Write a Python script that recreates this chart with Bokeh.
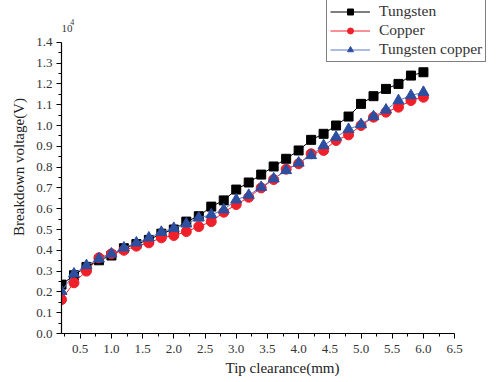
from bokeh.plotting import figure
from bokeh.models import (Range1d, FixedTicker, PrintfTickFormatter, Legend,
                          LegendItem, Label, ColumnDataSource)
from bokeh.embed import file_html
from bokeh.resources import INLINE

# Data (breakdown voltage in units of 10^4 V)
clearance = [0.2, 0.4, 0.6, 0.8, 1.0, 1.2, 1.4, 1.6, 1.8, 2.0,
             2.2, 2.4, 2.6, 2.8, 3.0, 3.2, 3.4, 3.6, 3.8, 4.0,
             4.2, 4.4, 4.6, 4.8, 5.0, 5.2, 5.4, 5.6, 5.8, 6.0]
tungsten = [0.235, 0.28, 0.32, 0.352, 0.375, 0.41, 0.43, 0.45, 0.48, 0.50,
            0.538, 0.564, 0.61, 0.64, 0.692, 0.726, 0.764, 0.803, 0.84, 0.88,
            0.931, 0.96, 1.00, 1.043, 1.104, 1.141, 1.176, 1.20, 1.24, 1.256]
copper = [0.163, 0.244, 0.30, 0.364, 0.383, 0.40, 0.42, 0.436, 0.46, 0.471,
          0.49, 0.514, 0.538, 0.583, 0.62, 0.655, 0.70, 0.74, 0.79, 0.816,
          0.864, 0.88, 0.928, 0.955, 1.00, 1.04, 1.064, 1.088, 1.12, 1.136]
tungsten_copper = [0.203, 0.287, 0.327, 0.359, 0.383, 0.412, 0.436, 0.46, 0.487, 0.506,
                   0.527, 0.556, 0.571, 0.595, 0.643, 0.665, 0.703, 0.744, 0.784, 0.82,
                   0.856, 0.904, 0.944, 0.982, 1.005, 1.043, 1.075, 1.12, 1.144, 1.16]

x_ticks = [0.5, 1.0, 1.5, 2.0, 2.5, 3.0, 3.5, 4.0, 4.5, 5.0, 5.5, 6.0, 6.5]
y_ticks = [0.0, 0.1, 0.2, 0.3, 0.4, 0.5, 0.6, 0.7, 0.8, 0.9, 1.0, 1.1, 1.2, 1.3, 1.4]

FONT = "Liberation Serif"

src = ColumnDataSource(dict(x=clearance, w=tungsten, c=copper, wc=tungsten_copper))

# frame spans from the y axis to the right edge and from the top edge to the x axis;
# the axes themselves are bounded to the data ranges
p = figure(width=503, height=382, output_backend="svg", toolbar_location=None,
           x_range=Range1d(0.2, 7.283), y_range=Range1d(0.0, 1.601),
           min_border_left=61, min_border_right=0, min_border_top=0,
           min_border_bottom=49)
p.outline_line_color = None
p.xgrid.visible = False
p.ygrid.visible = False
p.background_fill_color = "white"
p.border_fill_color = "white"

x_minor = [0.25 + 0.5 * i for i in range(13)]
y_minor = [0.05 + 0.1 * i for i in range(14)]
p.xaxis.ticker = FixedTicker(ticks=x_ticks, minor_ticks=x_minor)
p.yaxis.ticker = FixedTicker(ticks=y_ticks, minor_ticks=y_minor)
p.xaxis.bounds = (0.2, 6.5)
p.yaxis.bounds = (0.0, 1.4)
for ax in (p.xaxis[0], p.yaxis[0]):
    ax.formatter = PrintfTickFormatter(format="%.1f")
    ax.axis_line_color = "black"
    ax.axis_line_width = 1.2
    ax.major_tick_line_color = "black"
    ax.minor_tick_line_color = "black"
    ax.major_tick_in = 0
    ax.major_tick_out = 5
    ax.minor_tick_in = 0
    ax.minor_tick_out = 3
    ax.major_label_text_font = FONT
    ax.major_label_text_font_size = "13px"
    ax.major_label_text_color = "#333333"
    ax.axis_label_text_font = FONT
    ax.axis_label_text_font_size = "15px"
    ax.axis_label_text_font_style = "normal"
    ax.axis_label_text_color = "#222222"

p.xaxis.axis_label = "Tip clearance(mm)"
p.xaxis.major_label_standoff = 6
p.xaxis.axis_label_standoff = 4
p.yaxis.axis_label = "Breakdown voltage(V)"
p.yaxis.major_label_standoff = 4
p.yaxis.axis_label_standoff = 6

red = "#f0202a"
blue_m = "#2c4fa0"
blue_l = "#5a78c8"

l1 = p.line("x", "w", source=src, line_color="black", line_width=1)
s1 = p.scatter("x", "w", source=src, marker="square", size=9,
               fill_color="black", line_color="black")
l2 = p.line("x", "c", source=src, line_color=red, line_width=1)
s2 = p.scatter("x", "c", source=src, marker="circle", size=10,
               fill_color=red, line_color=red)
l3 = p.line("x", "wc", source=src, line_color=blue_l, line_width=1)
s3 = p.scatter("x", "wc", source=src, marker="triangle", size=11,
               fill_color=blue_m, line_color=blue_m)

legend = Legend(items=[LegendItem(label="Tungsten", renderers=[l1, s1]),
                       LegendItem(label="Copper", renderers=[l2, s2]),
                       LegendItem(label="Tungsten copper", renderers=[l3, s3])],
                location=(265, 271))
legend.border_line_color = "black"
legend.border_line_width = 1.2
legend.background_fill_color = "white"
legend.background_fill_alpha = 1.0
legend.label_text_font = FONT
legend.label_text_font_size = "15.5px"
legend.label_text_color = "#333333"
legend.glyph_width = 40
legend.glyph_height = 15
legend.label_height = 15
legend.spacing = 1
legend.padding = 3
legend.margin = 0
legend.label_standoff = 9
p.add_layout(legend, "center")

p.add_layout(Label(x=0.2, y=1.45, text="10", text_baseline="bottom",
                   text_font=FONT, text_font_size="11px", text_color="#333333"))
p.add_layout(Label(x=0.34, y=1.485, text="4", text_baseline="bottom",
                   text_font=FONT, text_font_size="8px", text_color="#333333"))

open("out.html", "w").write(file_html(p, INLINE))
